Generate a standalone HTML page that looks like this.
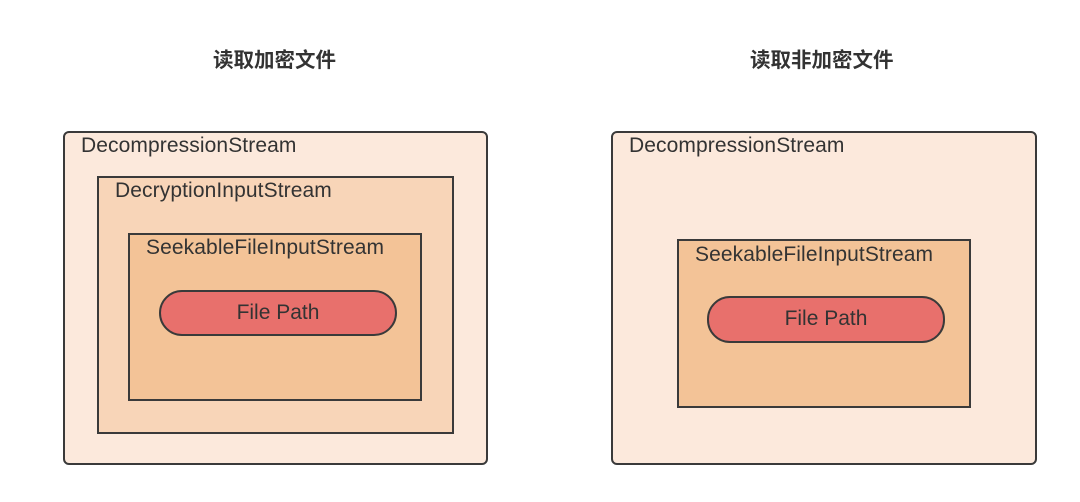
<!DOCTYPE html>
<html><head><meta charset="utf-8"><style>
body{margin:0;width:1080px;height:502px;background:#fff;position:relative;overflow:hidden;font-family:"Liberation Sans","Noto Sans CJK SC",sans-serif;}
.b{position:absolute;box-sizing:border-box;border:2px solid #3a3a3a;}
.t{position:absolute;font-size:21px;letter-spacing:0.1px;color:#333;white-space:nowrap;}
.h{position:absolute;font-size:20.5px;font-weight:bold;color:#333;top:43px;}
.p{position:absolute;box-sizing:border-box;border:2px solid #3a3a3a;background:#e8706c;border-radius:23px;font-size:21px;color:#333;text-align:center;line-height:42px;}
</style></head><body>
<div class="h" style="left:213px">读取加密文件</div>
<div class="h" style="left:750px">读取非加密文件</div>

<div class="b" style="left:63px;top:131px;width:425px;height:334px;background:#fce9dc;border-radius:6px"></div>
<div class="t" style="left:81px;top:134px">DecompressionStream</div>
<div class="b" style="left:97px;top:176px;width:357px;height:258px;background:#f8d5b8"></div>
<div class="t" style="left:115px;top:179px">DecryptionInputStream</div>
<div class="b" style="left:128px;top:233px;width:294px;height:168px;background:#f3c397"></div>
<div class="t" style="left:146px;top:236px">SeekableFileInputStream</div>
<div class="p" style="left:159px;top:290px;width:238px;height:46px">File Path</div>

<div class="b" style="left:611px;top:131px;width:426px;height:334px;background:#fce9dc;border-radius:6px"></div>
<div class="t" style="left:629px;top:134px">DecompressionStream</div>
<div class="b" style="left:677px;top:239px;width:294px;height:169px;background:#f3c397"></div>
<div class="t" style="left:695px;top:243px">SeekableFileInputStream</div>
<div class="p" style="left:707px;top:296px;width:238px;height:47px">File Path</div>
</body></html>
